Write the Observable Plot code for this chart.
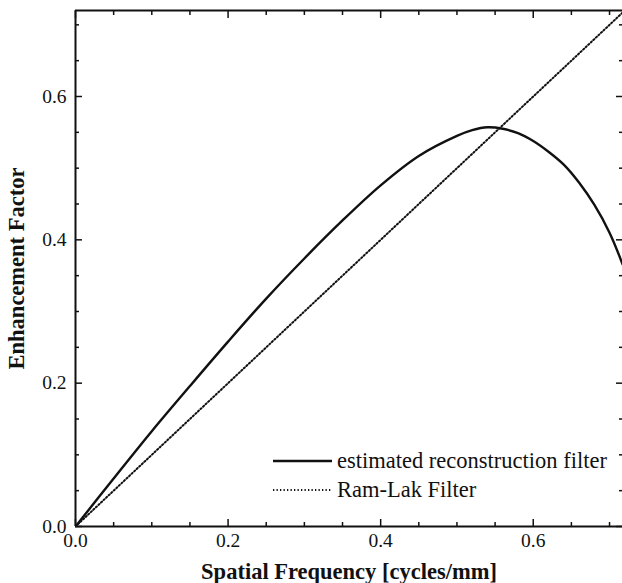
<!DOCTYPE html>
<html><head><meta charset="utf-8">
<script src="https://cdn.jsdelivr.net/npm/d3@7"></script>
<script src="https://cdn.jsdelivr.net/npm/@observablehq/plot@0.6"></script>
<style>
body{margin:0;background:#fff}
#wrap{position:relative;width:622px;height:583px}
svg text{font-family:"Liberation Serif",serif}
g[aria-label="x-axis label"] text, g[aria-label="y-axis label"] text{font-weight:bold;font-size:22.5px}
.legend{position:absolute;left:273px;height:26px;font-family:"Liberation Serif",serif;font-size:22.5px;color:#111;display:flex;align-items:center;white-space:nowrap}
.legend svg{margin-right:5px}
</style>
</head><body><div id="wrap"></div>
<script>
// Spatial frequency (cycles/mm) and estimated reconstruction filter
const freq = [0, 0.05, 0.10, 0.15, 0.20, 0.25, 0.30, 0.35, 0.40, 0.45, 0.50, 0.52, 0.54, 0.56, 0.58, 0.60, 0.62, 0.64, 0.66, 0.68, 0.70, 0.717];
const estimated = [0, 0.067, 0.133, 0.196, 0.258, 0.318, 0.374, 0.427, 0.476, 0.517, 0.545, 0.553, 0.557, 0.555, 0.549, 0.538, 0.523, 0.505, 0.480, 0.449, 0.410, 0.366];
// Ram-Lak filter: ramp |f|
const ramLakFreq = [0, 0.72];
const ramLakValue = [0, 0.72];
const majorTicks = [0, 0.2, 0.4, 0.6];
const minorTicks = [0.05, 0.1, 0.15, 0.25, 0.3, 0.35, 0.45, 0.5, 0.55, 0.65, 0.7];
const seriesNames = ["estimated reconstruction filter", "Ram-Lak Filter"];

const est = freq.map((f, i) => ({f, v: estimated[i]}));
const ram = ramLakFreq.map((f, i) => ({f, v: ramLakValue[i]}));
const fmt = d3.format(".1f");
const blank = () => "";
const tickStyle = {strokeWidth: 1.5, tickFormat: blank, label: null};

const chart = Plot.plot({
  width: 622, height: 583,
  marginLeft: 75, marginRight: 0, marginTop: 10, marginBottom: 57,
  style: {fontFamily: "'Liberation Serif', serif", fontSize: "20px", color: "#111", background: "#fff"},
  x: {domain: [0, 0.717]},
  y: {domain: [0, 0.72]},
  marks: [
    Plot.line(ram, {x: "f", y: "v", stroke: "#111", strokeWidth: 2, strokeDasharray: "1.3 2.2", clip: true}),
    Plot.line(est, {x: "f", y: "v", stroke: "#111", strokeWidth: 2.4, curve: "catmull-rom", clip: true}),
    Plot.axisX(minorTicks, {anchor: "bottom", tickSize: -4, ...tickStyle}),
    Plot.axisX(majorTicks, {anchor: "bottom", tickSize: -7, ...tickStyle}),
    Plot.axisX(minorTicks, {anchor: "top", tickSize: -4, ...tickStyle}),
    Plot.axisX(majorTicks, {anchor: "top", tickSize: -7, ...tickStyle}),
    Plot.axisY(minorTicks, {anchor: "left", tickSize: -4, ...tickStyle}),
    Plot.axisY(majorTicks, {anchor: "left", tickSize: -7, ...tickStyle}),
    Plot.axisY(minorTicks, {anchor: "right", tickSize: -4, ...tickStyle}),
    Plot.axisY(majorTicks, {anchor: "right", tickSize: -7, ...tickStyle}),
    Plot.axisX(majorTicks, {anchor: "bottom", tickSize: 0, tickPadding: 7, tickFormat: fmt, fontSize: 19.5, label: "Spatial Frequency [cycles/mm]", labelAnchor: "center", labelArrow: "none", labelOffset: 52}),
    Plot.axisY(majorTicks, {anchor: "left", tickSize: 0, tickPadding: 9, tickFormat: fmt, fontSize: 19.5, label: "Enhancement Factor", labelAnchor: "center", labelArrow: "none", labelOffset: 67}),
    Plot.ruleX([0], {stroke: "#111", strokeWidth: 2}),
    Plot.ruleY([0], {stroke: "#111", strokeWidth: 2}),
    Plot.ruleY([0.72], {stroke: "#111", strokeWidth: 2})
  ]
});
const wrap = document.getElementById("wrap");
wrap.appendChild(chart);

const dashes = [null, "1.3 2.2"];
const tops = [448, 477];
seriesNames.forEach((name, i) => {
  const d = document.createElement("div");
  d.className = "legend";
  d.style.top = tops[i] + "px";
  d.innerHTML = `<svg width="59" height="26"><line x1="0" x2="59" y1="13" y2="13" stroke="#111" stroke-width="${i ? 2 : 2.4}" ${dashes[i] ? `stroke-dasharray="${dashes[i]}"` : ""}/></svg><span>${name}</span>`;
  wrap.appendChild(d);
});
</script>
</body></html>
